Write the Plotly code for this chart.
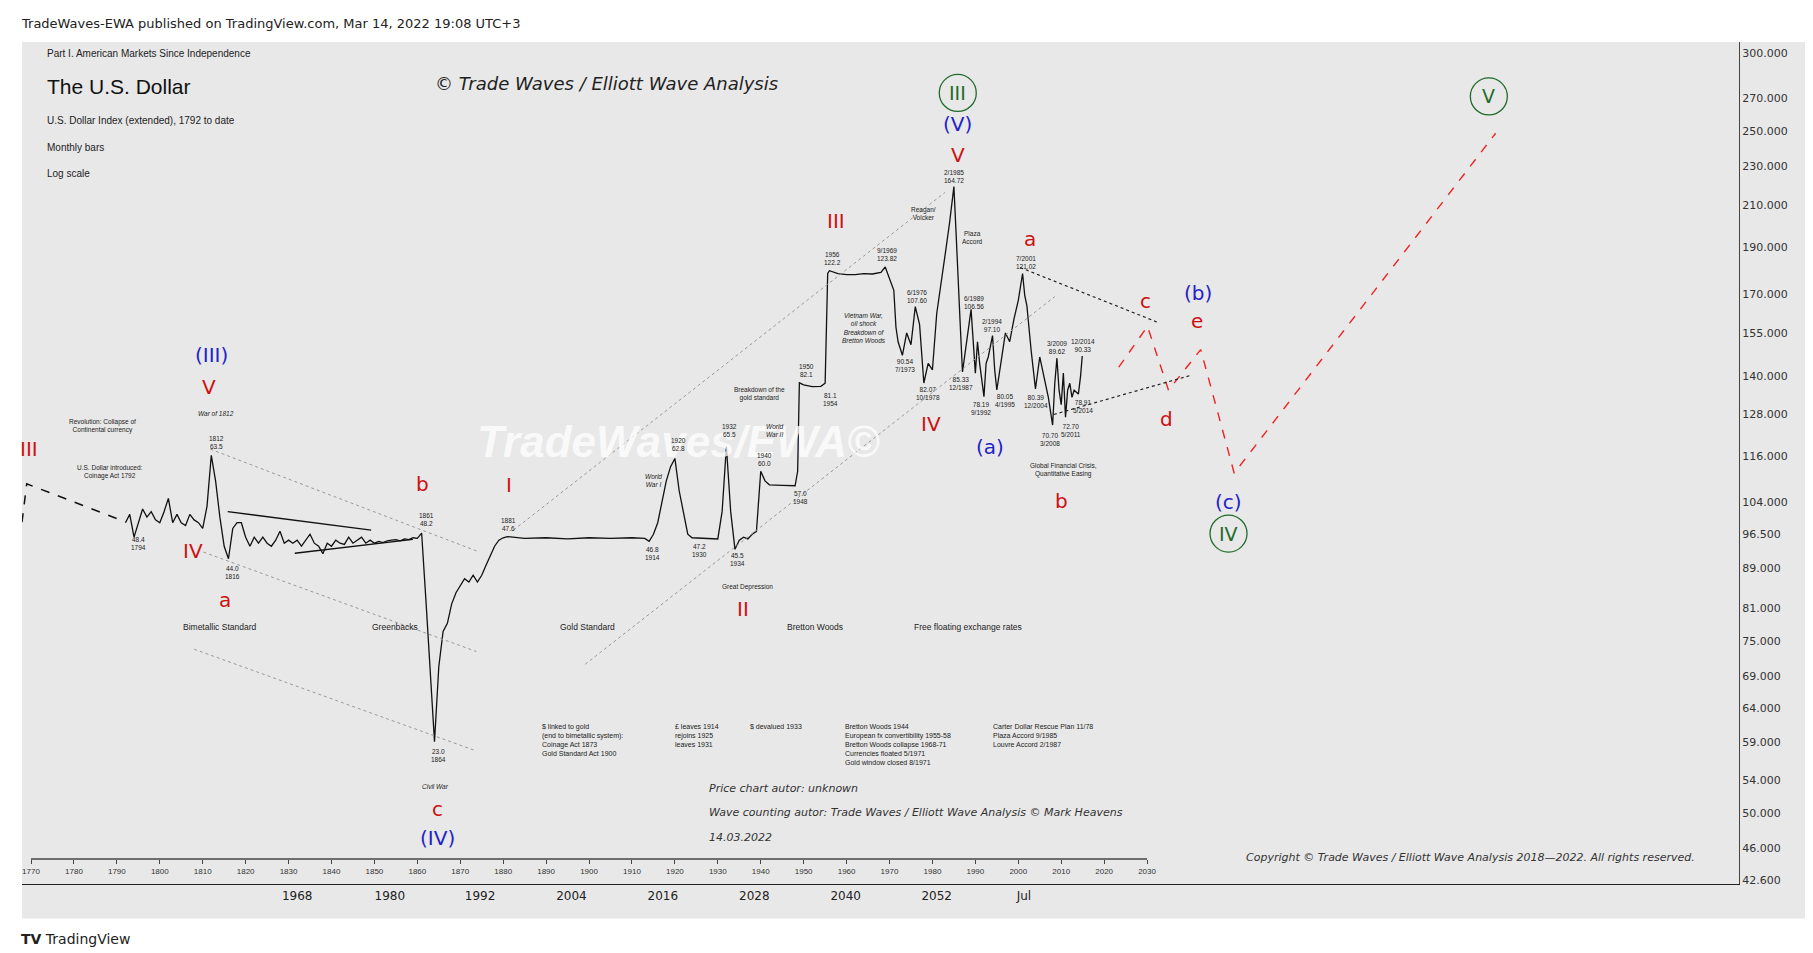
import math
import plotly.graph_objects as go

# U.S. Dollar Index (extended), inner chart values (year, index)
years = [1792, 1793, 1794, 1795, 1796, 1797, 1798, 1799, 1800, 1801, 1802, 1803, 1804, 1805,
         1806, 1807, 1808, 1809, 1810, 1811, 1812, 1813, 1814, 1815, 1816, 1817, 1818, 1819,
         1820, 1821, 1822, 1823, 1824, 1825, 1826, 1827, 1828, 1829, 1830, 1831, 1832, 1833,
         1834, 1835, 1836, 1837, 1838, 1839, 1840, 1841, 1842, 1843, 1844, 1845, 1846, 1847,
         1848, 1849, 1850, 1851, 1852, 1853, 1854, 1855, 1856, 1857, 1858, 1859, 1860, 1861,
         1862, 1863, 1864, 1865, 1866, 1867, 1868, 1869, 1870, 1871, 1872, 1873, 1874, 1875,
         1876, 1877, 1878, 1879, 1880, 1881, 1885, 1890, 1895, 1900, 1905, 1910, 1913, 1914,
         1915, 1916, 1917, 1918, 1919, 1920, 1921, 1922, 1923, 1924, 1927, 1930, 1931, 1932,
         1933, 1934, 1935, 1936, 1937, 1938, 1939, 1940, 1941, 1942, 1945, 1948, 1948.6, 1949,
         1950, 1952, 1954, 1955, 1955.6, 1956, 1958, 1960, 1962, 1964, 1966, 1968, 1969, 1970,
         1971, 1971.5, 1972, 1973, 1974, 1975, 1976, 1977, 1978, 1979, 1980, 1981, 1982, 1983,
         1984, 1985, 1985.5, 1986, 1986.5, 1987, 1988, 1989, 1990, 1990.5, 1991, 1992, 1992.5,
         1993, 1994, 1994.5, 1995, 1996, 1997, 1998, 1999, 2000, 2001, 2001.5, 2002, 2003, 2004,
         2005, 2006, 2007, 2008, 2008.5, 2009, 2009.5, 2010, 2010.5, 2011, 2011.5, 2012, 2012.5,
         2013, 2014, 2014.5, 2014.9]
values = [50, 51.5, 47.5, 50, 52.5, 51, 52, 50.5, 50, 52, 54.5, 50, 51.5, 50,
          49.5, 51.5, 50.5, 50, 49, 53, 63.5, 58, 51, 46, 44.0, 49, 50, 50,
          47.5, 46, 47.5, 46.5, 47.5, 46.5, 46, 47, 48.5, 46.5, 47, 46.5, 47, 46,
          47, 48, 46.5, 46, 44.8, 46.5, 46, 47, 46.5, 46.3, 47.5, 46.5, 47, 47.5,
          46.5, 47, 46.5, 46.8, 46.6, 46.9, 47, 47.1, 46.9, 47.2, 47.1, 47.4, 47.3, 48.2,
          38, 30, 23.0, 30, 34, 35, 37.5, 39, 40, 41, 40.5, 41.5, 40.5, 41.5,
          43, 44.5, 46, 47, 47.4, 47.6, 47.3, 47.4, 47.2, 47.4, 47.3, 47.4, 47.3, 46.8,
          48, 50, 54, 58, 61, 62.8, 56, 52, 48, 47.4, 47.3, 47.2, 52, 65.5,
          52, 45.5, 47, 47.5, 47.2, 48, 48.5, 60.0, 58, 57.2, 57.1, 57.0, 60, 82.1,
          81.5, 81, 81.1, 82, 121, 122.2, 121, 120.5, 120.5, 121, 120.8, 121.5, 123.82, 119,
          114, 100, 95, 90.54, 98, 94, 107.6, 101, 82.07, 88, 86, 105, 118, 130,
          145, 164.72, 140, 115, 100, 85.33, 95, 106.56, 85, 95, 88, 78.19, 88,
          90, 97.10, 86, 80.05, 88, 98, 95, 103, 110, 121.02, 112, 108, 92, 80.39,
          90, 84, 78, 70.70, 82, 89.62, 80, 76, 85, 72.70, 80, 82, 78,
          80, 78.91, 84, 90.33]

# early dashed segment
early_years = [1767.9, 1769.0, 1791.5]
early_values = [50.1, 57.4, 50.3]

# projected wave path (red dashed)
proj_years = [2023.4, 2030.1, 2035.0, 2042.5, 2050.3, 2111.2]
proj_values = [86.8, 100.3, 80.0, 92.4, 59.6, 199.0]

price_ticks = [300, 270, 250, 230, 210, 190, 170, 155, 140, 128, 116, 104, 96.5, 89, 81,
               75, 69, 64, 59, 54, 50, 46, 42.6]
inner_years = list(range(1770, 2031, 10))
tv_dates = ["1968", "1980", "1992", "2004", "2016", "2028", "2040", "2052", "Jul"]
tv_date_pos = [1832.0, 1853.6, 1874.6, 1895.9, 1917.2, 1938.5, 1959.8, 1981.0, 2001.3]


# helpers: screen position of the reference picture -> chart coords
def X(px):
    return 1770 + (px - 20) / 3.71


def Y(py):  # log10 of value (annotations)
    return (5.104 - (py - 155) / 243.8) / math.log(10)


def V(py):  # value (shapes, traces)
    return 10 ** Y(py)


RED = "#cc1111"
BLUE = "#2323c8"
GREEN = "#1f6b2a"
FONT = "Liberation Sans"

fig = go.Figure()
fig.add_trace(go.Scatter(x=early_years, y=early_values, mode="lines",
                         line=dict(color="#111", width=1.5, dash="dash"), hoverinfo="skip"))
fig.add_trace(go.Scatter(x=years, y=values, mode="lines",
                         line=dict(color="#111", width=1.3), hoverinfo="skip"))
fig.add_trace(go.Scatter(x=proj_years, y=proj_values, mode="lines",
                         line=dict(color="#ee2222", width=1.4, dash="dash"), hoverinfo="skip"))
# invisible traces to carry the extra axes
fig.add_trace(go.Scatter(x=[2100], y=[100], yaxis="y2", mode="markers",
                         marker=dict(opacity=0), hoverinfo="skip"))
fig.add_trace(go.Scatter(x=[1800], y=[30], xaxis="x2", mode="markers",
                         marker=dict(opacity=0), hoverinfo="skip"))

shapes = []
shapes.append(dict(type="rect", xref="paper", yref="paper", x0=-0.0, x1=1.041, y0=-0.041, y1=1.0,
                   fillcolor="#e8e8e8", line=dict(width=0), layer="below"))
shapes.append(dict(type="line", xref="x", yref="paper", x0=1770, x1=2030, y0=0.0297, y1=0.0297,
                   line=dict(color="#444", width=1.5)))


def seg(p0, p1, color="#9a9a9a", dash="dot", width=1):
    shapes.append(dict(type="line", xref="x", yref="y", x0=X(p0[0]), y0=V(p0[1]),
                       x1=X(p1[0]), y1=V(p1[1]), line=dict(color=color, width=width, dash=dash)))


seg((175, 382), (405, 470))
seg((169, 471), (405, 557))
seg((161, 555), (405, 643))
seg((437, 452), (810, 160))
seg((499, 568), (905, 250))
seg((190, 436), (314, 452), color="#111", dash="solid", width=1.3)
seg((248, 472), (350, 460), color="#111", dash="solid", width=1.3)
seg((875, 225), (993, 272), color="#222", dash="dot", width=1.2)
seg((904, 352), (1023, 318), color="#222", dash="dot", width=1.2)

ann = []


def txt(px, py, text, size=7, color="#222", align="center", italic=False, family=FONT, xanchor="center", yanchor="middle"):
    ann.append(dict(x=X(px), y=Y(py), xref="x", yref="y", text=text, showarrow=False,
                    font=dict(size=size, color=color, family=family, style="italic" if italic else "normal"),
                    align=align, xanchor=xanchor, yanchor=yanchor))


# wave labels
for px, py, t in [(18, 382, "III"), (174, 328, "V"), (160, 470, "IV"), (188, 512, "a"), (358, 412, "b"),
                  (433, 413, "I"), (371, 693, "c"), (635, 520, "II"), (716, 185, "III"), (798, 360, "IV"),
                  (821, 128, "V"), (883, 200, "a"), (911, 427, "b"), (983, 254, "c"), (1028, 271, "e"),
                  (1001, 356, "d")]:
    txt(px, py, t, size=20, color=RED, family="DejaVu Sans")
for px, py, t in [(176, 301, "(III)"), (371, 718, "(IV)"), (821, 101, "(V)"), (849, 380, "(a)"),
                  (1029, 247, "(b)"), (1055, 428, "(c)")]:
    txt(px, py, t, size=20, color=BLUE, family="DejaVu Sans")
circled = [(821, 74, "III"), (1055, 455, "IV"), (1280, 77, "V")]
for px, py, t in circled:
    txt(px, py, t, size=19, color=GREEN, family="DejaVu Sans")
fig.add_trace(go.Scatter(x=[X(c[0]) for c in circled], y=[V(c[1]) for c in circled], mode="markers",
                         marker=dict(symbol="circle-open", size=37, color=GREEN, line=dict(width=1.3)),
                         hoverinfo="skip"))

# watermark
txt(580, 375, "<b>TradeWaves/EWA©</b>", size=44, color="rgba(255,255,255,0.75)", italic=True)

# titles
txt(32, 40, "Part I. American Markets Since Independence", size=10, xanchor="left")
txt(32, 68, "The U.S. Dollar", size=21, color="#111", xanchor="left")
txt(32, 98, "U.S. Dollar Index (extended), 1792 to date", size=10, xanchor="left")
txt(32, 121, "Monthly bars", size=10, xanchor="left")
txt(32, 144, "Log scale", size=10, xanchor="left")
txt(517, 66, "© Trade Waves / Elliott Wave Analysis", size=18, italic=True, family="DejaVu Sans")

# small notes
for px, py, t, it in [
    (82, 362, "Revolution: Collapse of<br>Continental currency", False),
    (88, 402, "U.S. Dollar introduced:<br>Coinage Act 1792", False),
    (180, 351, "War of 1812", True), (180, 376, "1812<br>63.5", False), (113, 464, "48.4<br>1794", False),
    (194, 489, "44.0<br>1816", False), (362, 443, "1861<br>48.2", False), (372, 647, "23.0<br>1864", False),
    (370, 674, "Civil War", True), (433, 447, "1881<br>47.6", False), (557, 472, "46.8<br>1914", False),
    (580, 378, "1920<br>62.8", False), (598, 470, "47.2<br>1930", False), (624, 366, "1932<br>65.5", False),
    (631, 477, "45.5<br>1934", False), (639, 501, "Great Depression", False), (654, 391, "1940<br>60.0", False),
    (558, 409, "World<br>War I", True), (663, 366, "World<br>War II", True), (685, 424, "57.0<br>1948", False),
    (650, 334, "Breakdown of the<br>gold standard", False), (690, 314, "1950<br>82.1", False),
    (711, 339, "81.1<br>1954", False), (713, 217, "1956<br>122.2", False), (760, 214, "9/1969<br>123.82", False),
    (740, 277, "Vietnam War,<br>oil shock<br>Breakdown of<br>Bretton Woods", True),
    (775, 310, "90.54<br>7/1973", False), (786, 250, "6/1976<br>107.60", False),
    (795, 334, "82.07<br>10/1978", False), (791, 178, "Reagan/<br>Volcker", False),
    (818, 146, "2/1985<br>164.72", False), (834, 199, "Plaza<br>Accord", False),
    (835, 255, "6/1989<br>106.56", False), (824, 325, "85.33<br>12/1987", False),
    (851, 275, "2/1994<br>97.10", False), (841, 347, "78.19<br>9/1992", False),
    (862, 340, "80.05<br>4/1995", False), (880, 221, "7/2001<br>121.02", False),
    (907, 294, "3/2009<br>89.62", False), (929, 292, "12/2014<br>90.33", False),
    (889, 341, "80.39<br>12/2004", False), (929, 345, "78.91<br>5/2014", False),
    (919, 366, "72.70<br>5/2011", False), (901, 374, "70.70<br>3/2008", False),
    (912, 400, "Global Financial Crisis,<br>Quantitative Easing", False)]:
    txt(px, py, t, size=6.5, italic=it)

for px, t in [(183, "Bimetallic Standard"), (335, "Greenbacks"), (501, "Gold Standard"),
              (698, "Bretton Woods"), (830, "Free floating exchange rates")]:
    txt(px, 536, t, size=8.5)

for px, t in [(460, "$ linked to gold<br>(end to bimetallic system):<br>Coinage Act 1873<br>Gold Standard Act 1900"),
              (575, "£ leaves 1914<br>rejoins 1925<br>leaves 1931"), (640, "$ devalued 1933"),
              (722, "Bretton Woods 1944<br>European fx convertibility 1955-58<br>Bretton Woods collapse 1968-71<br>Currencies floated 5/1971<br>Gold window closed 8/1971"),
              (850, "Carter Dollar Rescue Plan 11/78<br>Plaza Accord 9/1985<br>Louvre Accord 2/1987")]:
    txt(px, 617, t, size=7, align="left", xanchor="left", yanchor="top")

for py, t in [(675, "Price chart autor: unknown"),
              (696, "Wave counting autor: Trade Waves / Elliott Wave Analysis © Mark Heavens"),
              (718, "14.03.2022")]:
    txt(604, py, t, size=11, italic=True, family="DejaVu Sans", xanchor="left", color="#333")
txt(1068, 735, "Copyright © Trade Waves / Elliott Wave Analysis 2018—2022. All rights reserved.",
    size=11, italic=True, family="DejaVu Sans", xanchor="left", color="#333")

# page header/footer
ann.append(dict(x=0, y=1, xref="paper", yref="paper", xshift=-3, yshift=9,
                text="TradeWaves-EWA published on TradingView.com, Mar 14, 2022 19:08 UTC+3",
                showarrow=False, xanchor="left", yanchor="bottom", font=dict(size=13, color="#222", family="DejaVu Sans")))
ann.append(dict(x=0, y=0, xref="paper", yref="paper", xshift=-3, yshift=-45, text="<b>TV</b> TradingView",
                showarrow=False, xanchor="left", yanchor="top", font=dict(size=14, color="#222", family="DejaVu Sans")))

fig.update_layout(
    width=1813, height=953,
    margin=dict(l=14, r=82, t=34, b=77),
    paper_bgcolor="white", plot_bgcolor="#ebebeb",
    showlegend=False,
    shapes=shapes, annotations=ann,
    xaxis=dict(range=[1767.9, 2167.9], tickvals=tv_date_pos, ticktext=tv_dates, ticks="",
               showgrid=False, zeroline=False, showline=True, linecolor="#222", linewidth=1.2,
               tickfont=dict(size=12, color="#222", family="DejaVu Sans")),
    xaxis2=dict(range=[1767.9, 2167.9], overlaying="x", anchor="free", position=0.0297, side="bottom",
                tickvals=inner_years, ticks="outside", ticklen=4, tickcolor="#444", showgrid=False,
                showline=False, zeroline=False, tickfont=dict(size=8, color="#333", family=FONT)),
    yaxis=dict(type="log", range=[1.1425, 2.4394], visible=False, showgrid=False),
    yaxis2=dict(type="log", range=[1.6259, 2.4890], overlaying="y", side="right", tickvals=price_ticks,
                ticktext=["%.3f" % v for v in price_ticks], showgrid=False, showline=True,
                linecolor="#444", ticks="", tickfont=dict(size=11, color="#333", family="DejaVu Sans")),
)

fig.write_html("out.html")
